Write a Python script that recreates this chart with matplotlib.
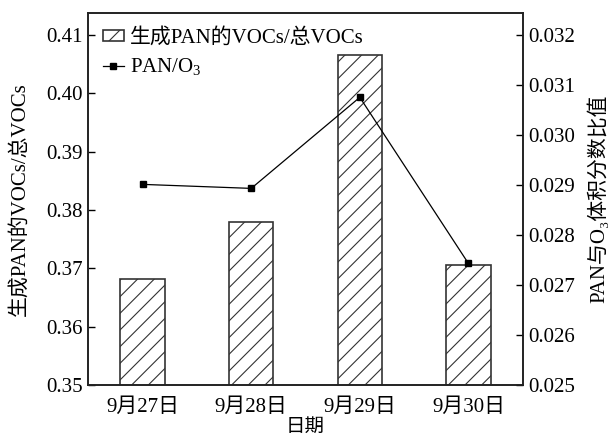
import matplotlib
matplotlib.use("Agg")
import matplotlib.pyplot as plt
import numpy as np

# ==========================
# DATA
# ==========================

dates = ["9月27日", "9月28日", "9月29日", "9月30日"]

voc_ratio = [0.3681, 0.3779, 0.4066, 0.3705]

pan_o3 = [0.02901, 0.02893, 0.03075, 0.02743]

left_ticks = [0.35, 0.36, 0.37, 0.38, 0.39, 0.40, 0.41]
right_ticks = [0.025, 0.026, 0.027, 0.028, 0.029, 0.030, 0.031, 0.032]

# ==========================
# STYLE
# ==========================

plt.rcParams["font.family"] = ["Liberation Serif", "Noto Sans CJK SC", "DejaVu Serif"]
plt.rcParams["mathtext.fontset"] = "custom"
plt.rcParams["mathtext.rm"] = "Liberation Serif"
plt.rcParams["mathtext.it"] = "Liberation Serif"
plt.rcParams["hatch.linewidth"] = 0.8
plt.rcParams["axes.unicode_minus"] = False

fs = 15

fig = plt.figure(figsize=(6.1, 4.4), dpi=100)
ax = fig.add_axes([0.1448, 0.125, 0.8569 - 0.1448, 0.9698 - 0.125])
ax2 = ax.twinx()

x = np.arange(len(dates))

bars = ax.bar(
    x,
    voc_ratio,
    width=0.41,
    color="white",
    edgecolor="#333333",
    linewidth=1.2,
    hatch="//"
)

line, = ax2.plot(
    x,
    pan_o3,
    color="black",
    linewidth=0.9,
    marker="s",
    markersize=5
)

ax.set_xlim(-0.5, 3.5)
ax.set_ylim(0.35, 0.4137)
ax2.set_ylim(0.025, 0.03243)

ax.set_yticks(left_ticks)
ax.set_yticklabels([f"{v:.2f}" for v in left_ticks])
ax2.set_yticks(right_ticks)
ax2.set_yticklabels([f"{v:.3f}" for v in right_ticks])

ax.set_xticks(x)
ax.set_xticklabels(dates)

ax.tick_params(axis="y", direction="in", length=5, width=1, labelsize=fs, pad=4)
ax2.tick_params(axis="y", direction="in", length=5, width=1, labelsize=fs, pad=4)
ax.tick_params(axis="x", length=0, labelsize=fs, pad=9)

for a in (ax, ax2):
    for s in a.spines.values():
        s.set_linewidth(1.2)
        s.set_color("#222222")

ax.set_xlabel("日期", fontsize=14, labelpad=2)
ax.set_ylabel("生成PAN的VOCs/总VOCs", fontsize=fs, labelpad=12)
ax2.set_ylabel("PAN与O\u2083体积分数比值", fontsize=fs, labelpad=9)

ax.legend(
    [bars, line],
    ["生成PAN的VOCs/总VOCs", "PAN/O$_3$"],
    loc="upper left",
    frameon=False,
    fontsize=fs,
    handlelength=1.0,
    handleheight=0.4,
    handletextpad=0.3,
    borderaxespad=0.3,
    borderpad=0.4,
    labelspacing=0.4
)

fig.savefig("out.png", dpi=100)
